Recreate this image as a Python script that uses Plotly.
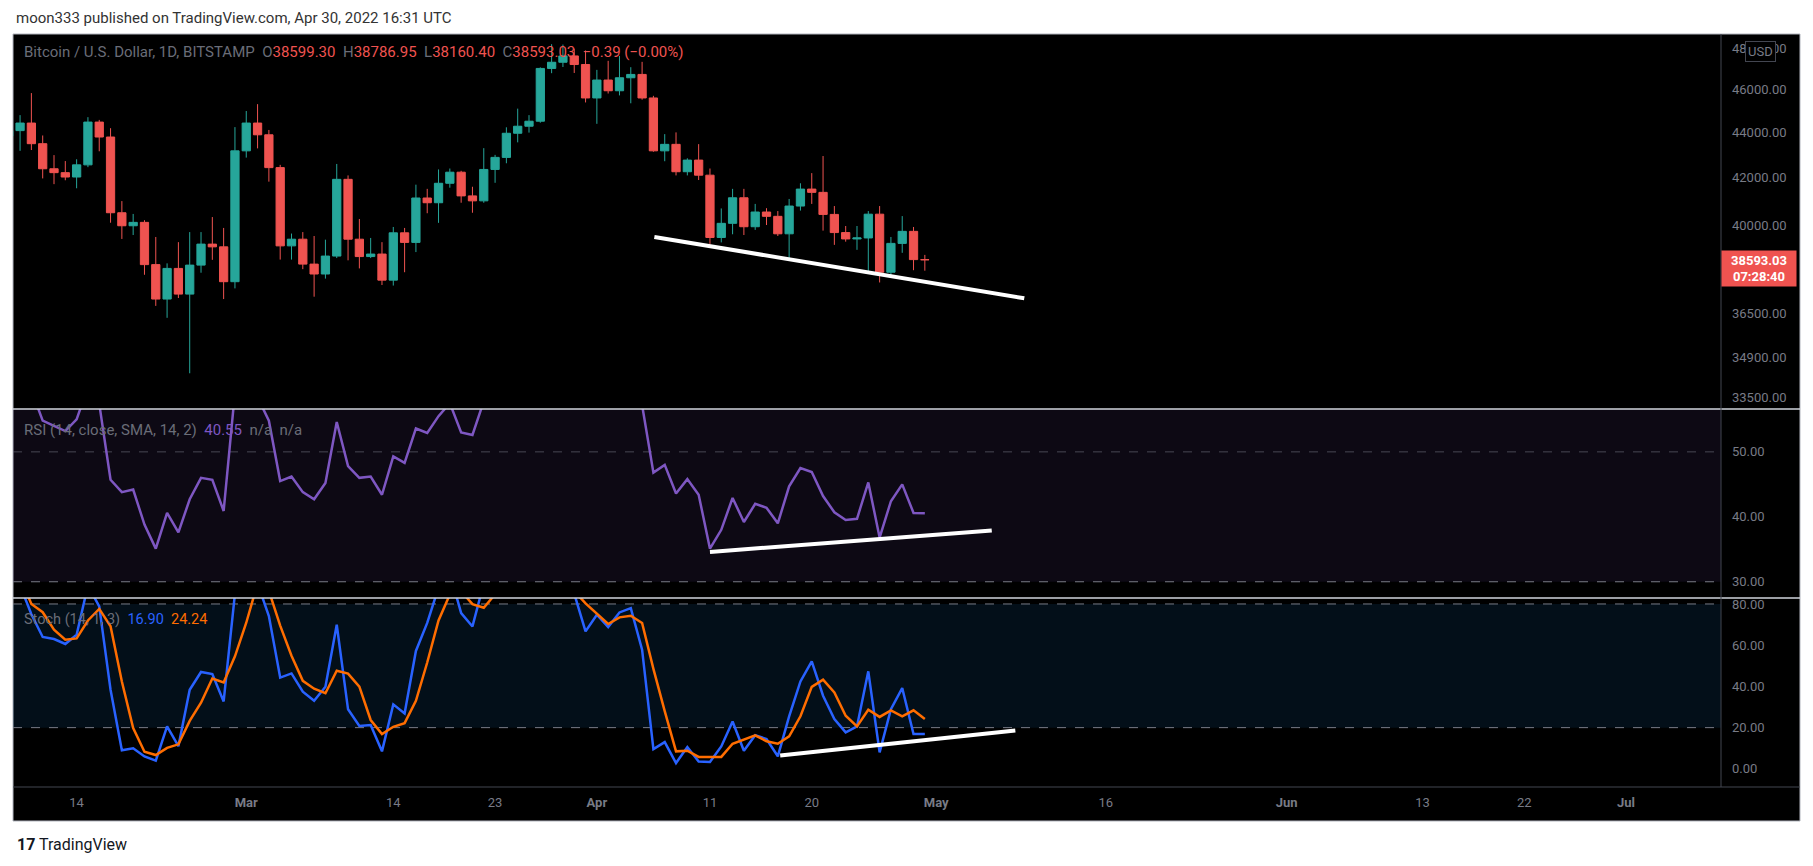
import numpy as np
import pandas as pd
import plotly.graph_objects as go

# page body adds an 8px margin, so the figure is drawn 8px in from the corner
PAGE_PAD = 8
W, H = 1813 - 2 * PAGE_PAD, 866 - 2 * PAGE_PAD

# daily candles, Feb 8 .. Apr 30 2022
dates = pd.date_range("2022-02-08", "2022-04-30", freq="D")

opens = [43840, 44090, 44435, 43500, 42390, 42220, 42030, 42560, 44480, 43800,
         40510, 39970, 40110, 38400, 37060, 38250, 37250, 38380, 39220, 39110,
         37730, 43180, 44435, 43900, 42440, 39150, 39420, 38420, 38030, 38740,
         41930, 39420, 38720, 38820, 37790, 39680, 39290, 41130, 40930, 41760,
         42240, 41220, 41010, 42360, 42890, 43970, 44290, 44520, 47010, 47310,
         47620, 47200, 45600, 46450, 45940, 46560, 46720, 45600, 43180, 43470,
         42260, 42770, 42110, 39490, 40070, 41140, 39930, 40540, 40360, 39640,
         40790, 41510, 41370, 40440, 39690, 39430, 39470, 40450, 38100, 39250,
         39740, 38599.30]
highs = [45450, 44800, 45830, 43870, 42990, 42727, 42806, 44705, 44580, 44200,
         41000, 40460, 40200, 39510, 38450, 39300, 39710, 39710, 40330, 39880,
         44250, 44990, 45310, 44120, 42560, 39650, 39710, 39550, 39400, 42600,
         42100, 40250, 39470, 39300, 39920, 39880, 41700, 41520, 42360, 42400,
         42300, 41610, 43300, 43000, 44240, 45100, 44800, 47060, 48200, 48180,
         47980, 47890, 46940, 47380, 47620, 47070, 47330, 45700, 43930, 44010,
         42850, 43480, 42400, 40690, 41520, 41520, 40880, 40700, 40580, 41090,
         41760, 42200, 42950, 40790, 39960, 39960, 40580, 40790, 39510, 40370,
         39920, 38786.95]
lows = [42700, 43180, 43216, 41970, 41722, 41890, 41545, 42460, 43160, 40095,
        39430, 39590, 38000, 36800, 36350, 37100, 34330, 38080, 38590, 37060,
        37470, 42880, 43290, 41830, 38600, 38600, 38220, 37150, 37850, 38660,
        38570, 38250, 38660, 37600, 37580, 38100, 38900, 40490, 40090, 41570,
        40930, 40510, 40930, 41780, 42630, 43560, 44000, 44450, 46780, 47080,
        46790, 45390, 44400, 45810, 45720, 45350, 45520, 43140, 42720, 42100,
        42100, 41900, 39220, 39290, 39620, 39590, 39800, 40000, 39550, 38570,
        40600, 40880, 39770, 39190, 39320, 38990, 38100, 37700, 37880, 38870,
        38180, 38160.40]
closes = [44090, 44435, 43500, 42390, 42220, 42030, 42560, 44480, 43800, 40510,
          39970, 40110, 38400, 37060, 38250, 37250, 38380, 39220, 39110, 37730,
          43180, 44435, 43900, 42440, 39150, 39420, 38420, 38030, 38740, 41930,
          39420, 38720, 38820, 37790, 39680, 39290, 41130, 40930, 41760, 42240,
          41220, 41010, 42360, 42890, 43970, 44290, 44520, 47010, 47310, 47620,
          47200, 45600, 46450, 45940, 46560, 46720, 45600, 43180, 43470, 42260,
          42770, 42110, 39490, 40070, 41140, 39930, 40540, 40360, 39640, 40790,
          41510, 41370, 40440, 39690, 39430, 39470, 40450, 38100, 39250, 39740,
          38599.30, 38593.03]

rsi = [62, 61, 59.5, 54.8, 54, 53.2, 55, 60, 57.4, 45.7,
       43.8, 44.2, 38.8, 35.1, 40.6, 37.6, 42.7, 46, 45.7, 40.9,
       59.2, 62, 58.4, 54.8, 45.5, 46.2, 43.8, 42.7, 45.2, 54.6,
       47.8, 46, 46.2, 43.4, 49.3, 48.3, 53.6, 52.9, 55.5, 57.5,
       53, 52.6, 57.8, 59, 62, 63, 63.5, 69, 70, 71,
       69, 61, 64, 62, 64, 64.5, 57.2, 46.8, 48.0, 43.6,
       45.8, 43.4, 35.1, 38.0, 42.9, 39.2, 42.0, 41.4, 39.0, 44.7,
       47.5, 46.9, 43.2, 40.7, 39.5, 39.7, 45.3, 36.8, 42.4, 45.0,
       40.6, 40.55]

stoch_k = [95, 89, 75, 64, 63, 60.6, 65.1, 89, 78.8, 38.4,
           9, 10, 6, 4, 20.6, 11, 38.4, 47, 46, 32.7,
           85, 95, 90, 74.1, 44.3, 46.3, 37.4, 33, 39.8, 69.9,
           28.9, 20.8, 21.3, 8.5, 31.3, 26.9, 57.2, 70.8, 88, 95,
           75.6, 69.1, 90, 95, 97, 92, 94, 99, 93, 89,
           85, 66.7, 74.8, 68.8, 75.9, 78.0, 57.8, 9.6, 13.0, 2.8,
           10.6, 3.6, 3.3, 10.9, 23.0, 8.8, 16.3, 14.5, 6.1, 25.5,
           42.4, 52.1, 35.5, 24.2, 17.7, 20.6, 47.3, 8.0, 29.0, 39.2,
           16.9, 16.9]
stoch_d = [92, 93, 80, 76, 67.5, 62.7, 63.3, 72, 77.6, 69.2,
           42.4, 19.8, 8.3, 6.7, 10.2, 11.9, 23.3, 32.1, 43.8, 41.9,
           54.6, 70.9, 90, 86.4, 69.5, 54.9, 42.7, 38.9, 36.7, 47.6,
           46.2, 39.9, 23.7, 16.9, 20.4, 22.2, 33, 51.6, 72, 84.6,
           86.2, 79.9, 78.2, 84.7, 94, 94.7, 94.3, 95, 95.3, 93.7,
           86.3, 80.3, 75.4, 70.3, 73.5, 74.3, 70.8, 48.5, 28, 8.5,
           8.8, 5.8, 5.8, 5.8, 12.2, 14.2, 16.3, 13.4, 12.2, 15.8,
           25.5, 39.8, 43.3, 37.1, 25.8, 20.6, 28.7, 25.2, 28.4, 25.5,
           28.4, 24.24]

# drawn trendlines
price_trend_x = ["2022-04-06 02:00", "2022-05-08 19:00"]
price_trend_y = [39510, 37090]
rsi_trend_x = ["2022-04-11 00:00", "2022-05-05 22:00"]
rsi_trend_y = [34.6, 37.9]
stoch_trend_x = ["2022-04-17 05:00", "2022-05-08 00:00"]
stoch_trend_y = [6.5, 18.6]

price_ticks = [48000, 46000, 44000, 42000, 40000, 36500, 34900, 33500]
rsi_ticks = [30, 40, 50]
stoch_ticks = [0, 20, 40, 60, 80]
date_ticks = ["2022-02-14", "2022-03-01", "2022-03-14", "2022-03-23", "2022-04-01",
              "2022-04-11", "2022-04-20", "2022-05-01", "2022-05-16", "2022-06-01",
              "2022-06-13", "2022-06-22", "2022-07-01"]
date_labels = ["14", "<b>Mar</b>", "14", "23", "<b>Apr</b>", "11", "20", "<b>May</b>",
               "16", "<b>Jun</b>", "13", "22", "<b>Jul</b>"]

UP, DOWN = "#26a69a", "#ef5350"
AXIS_TXT = "#787b86"
FONT = "Roboto"


def px_x(p):
    # screen pixel -> paper coordinate
    return (p - PAGE_PAD) / W


def px_y(p):
    return 1 - (p - PAGE_PAD) / H


fig = go.Figure()

fig.add_trace(go.Candlestick(
    x=dates, open=opens, high=highs, low=lows, close=closes,
    increasing=dict(line=dict(color=UP, width=1), fillcolor=UP),
    decreasing=dict(line=dict(color=DOWN, width=1), fillcolor=DOWN),
    xaxis="x", yaxis="y", showlegend=False, hoverinfo="skip"))
fig.add_trace(go.Scatter(x=price_trend_x, y=price_trend_y, mode="lines",
                         line=dict(color="white", width=4), xaxis="x", yaxis="y",
                         showlegend=False))

fig.add_trace(go.Scatter(x=dates, y=rsi, mode="lines", line=dict(color="#7e57c2", width=2.5),
                         xaxis="x2", yaxis="y2", showlegend=False))
fig.add_trace(go.Scatter(x=rsi_trend_x, y=rsi_trend_y, mode="lines",
                         line=dict(color="white", width=4), xaxis="x2", yaxis="y2",
                         showlegend=False))

fig.add_trace(go.Scatter(x=dates, y=stoch_k, mode="lines", line=dict(color="#2962ff", width=2.5),
                         xaxis="x3", yaxis="y3", showlegend=False))
fig.add_trace(go.Scatter(x=dates, y=stoch_d, mode="lines", line=dict(color="#ff6d00", width=2.5),
                         xaxis="x3", yaxis="y3", showlegend=False))
fig.add_trace(go.Scatter(x=stoch_trend_x, y=stoch_trend_y, mode="lines",
                         line=dict(color="white", width=4), xaxis="x3", yaxis="y3",
                         showlegend=False))

xdom = [px_x(13), px_x(1721)]
xrange = ["2022-02-08 09:00", "2022-07-09 09:30"]
xcommon = dict(domain=xdom, range=xrange, type="date", showgrid=False, zeroline=False,
               showline=False, ticks="", fixedrange=True)
ycommon = dict(side="right", showgrid=False, zeroline=False, showline=False, ticks="",
               tickfont=dict(family=FONT, size=13, color=AXIS_TXT), ticklabelstandoff=10)

fig.update_layout(
    width=W, height=H,
    margin=dict(l=0, r=0, t=0, b=0),
    paper_bgcolor="white", plot_bgcolor="rgba(0,0,0,0)",
    boxgap=0.27, boxgroupgap=0,
    xaxis=dict(**xcommon, anchor="y", showticklabels=False, rangeslider=dict(visible=False)),
    xaxis2=dict(**xcommon, anchor="y2", matches="x", showticklabels=False),
    xaxis3=dict(**xcommon, anchor="y3", matches="x", tickvals=date_ticks, ticktext=date_labels,
                tickfont=dict(family=FONT, size=13, color=AXIS_TXT), ticklabelstandoff=6),
    yaxis=dict(**ycommon, anchor="x", domain=[px_y(409), px_y(34)], type="log",
               range=[np.log10(33088), np.log10(48709)],
               tickvals=price_ticks, ticktext=[f"{v:.2f}" for v in price_ticks]),
    yaxis2=dict(**ycommon, anchor="x2", domain=[px_y(598), px_y(409)], range=[27.5, 56.6],
                tickvals=rsi_ticks, ticktext=[f"{v:.2f}" for v in rsi_ticks]),
    yaxis3=dict(**ycommon, anchor="x3", domain=[px_y(787), px_y(598)], range=[-8.8, 82.9],
                tickvals=stoch_ticks, ticktext=[f"{v:.2f}" for v in stoch_ticks]),
)

shapes = [
    # black chart frame
    dict(type="rect", xref="paper", yref="paper", x0=px_x(13), x1=px_x(1800),
         y0=px_y(821), y1=px_y(34), fillcolor="black", line=dict(color="#b2b5be", width=1),
         layer="below"),
    # indicator bands
    dict(type="rect", xref="x2 domain", yref="y2", x0=0, x1=1, y0=30, y1=56.6,
         fillcolor="rgba(126,87,194,0.1)", line=dict(width=0), layer="below"),
    dict(type="rect", xref="x3 domain", yref="y3", x0=0, x1=1, y0=20, y1=80,
         fillcolor="rgba(33,150,243,0.1)", line=dict(width=0), layer="below"),
    dict(type="line", xref="x2 domain", yref="y2", x0=0, x1=1, y0=50, y1=50,
         line=dict(color="rgba(120,123,134,0.55)", width=1, dash="dash"), layer="below"),
    dict(type="line", xref="x2 domain", yref="y2", x0=0, x1=1, y0=30, y1=30,
         line=dict(color=AXIS_TXT, width=1, dash="dash"), layer="below"),
    dict(type="line", xref="x3 domain", yref="y3", x0=0, x1=1, y0=80, y1=80,
         line=dict(color=AXIS_TXT, width=1, dash="dash"), layer="below"),
    dict(type="line", xref="x3 domain", yref="y3", x0=0, x1=1, y0=20, y1=20,
         line=dict(color=AXIS_TXT, width=1, dash="dash"), layer="below"),
    # pane separators and axis borders
    dict(type="line", xref="paper", yref="paper", x0=px_x(13), x1=px_x(1800),
         y0=px_y(409), y1=px_y(409), line=dict(color="#d1d4dc", width=1.5)),
    dict(type="line", xref="paper", yref="paper", x0=px_x(13), x1=px_x(1800),
         y0=px_y(598), y1=px_y(598), line=dict(color="#d1d4dc", width=1.5)),
    dict(type="line", xref="paper", yref="paper", x0=px_x(1721), x1=px_x(1721),
         y0=px_y(787), y1=px_y(34), line=dict(color="#434651", width=1)),
    dict(type="line", xref="paper", yref="paper", x0=px_x(13), x1=px_x(1800),
         y0=px_y(787), y1=px_y(787), line=dict(color="#434651", width=1)),
]
fig.update_layout(shapes=shapes)

gray = "#6a6d78"
red = DOWN
sp = "&nbsp;&nbsp;"
price_legend = (f'<span style="color:{gray}">Bitcoin / U.S. Dollar, 1D, BITSTAMP</span>{sp}'
                f'<span style="color:{gray}">O</span><span style="color:{red}">38599.30</span>{sp}'
                f'<span style="color:{gray}">H</span><span style="color:{red}">38786.95</span>{sp}'
                f'<span style="color:{gray}">L</span><span style="color:{red}">38160.40</span>{sp}'
                f'<span style="color:{gray}">C</span><span style="color:{red}">38593.03</span>{sp}'
                f'<span style="color:{red}">\u22120.39 (\u22120.00%)</span>')
rsi_legend = (f'<span style="color:{gray}">RSI (14, close, SMA, 14, 2)</span>{sp}'
              f'<span style="color:#7e57c2">40.55</span>{sp}'
              f'<span style="color:{gray}">n/a{sp}n/a</span>')
stoch_legend = (f'<span style="color:{gray}">Stoch (14, 1, 3)</span>{sp}'
                f'<span style="color:#2962ff">16.90</span>{sp}'
                f'<span style="color:#ff6d00">24.24</span>')

annotations = [
    dict(text="moon333 published on TradingView.com, Apr 30, 2022 16:31 UTC",
         x=px_x(14), y=px_y(18), font=dict(family=FONT, size=15, color="#333333")),
    dict(text=price_legend, x=px_x(22), y=px_y(52), font=dict(family=FONT, size=15)),
    dict(text=rsi_legend, x=px_x(22), y=px_y(430), font=dict(family=FONT, size=15)),
    dict(text=stoch_legend, x=px_x(22), y=px_y(619), font=dict(family=FONT, size=14.5)),
    dict(text="<b>17</b> TradingView", x=px_x(15), y=px_y(844),
         font=dict(family=FONT, size=16, color="#131722")),
]
for a in annotations:
    a.update(xref="paper", yref="paper", xanchor="left", yanchor="middle", showarrow=False)

annotations += [
    dict(text="USD", xref="paper", yref="paper", x=px_x(1760), y=px_y(52),
         xanchor="center", yanchor="middle", showarrow=False,
         font=dict(family=FONT, size=13, color=AXIS_TXT), bgcolor="black",
         bordercolor="#434651", borderwidth=1, borderpad=2),
    dict(text="<b>38593.03</b><br><b>07:28:40</b>", xref="paper", yref="paper",
         x=px_x(1721), y=px_y(268), xanchor="left", yanchor="middle", showarrow=False,
         font=dict(family=FONT, size=13, color="white"), bgcolor=DOWN,
         width=70, height=31, align="center", borderpad=2),
]
fig.update_layout(annotations=annotations)

fig.write_html("out.html")
